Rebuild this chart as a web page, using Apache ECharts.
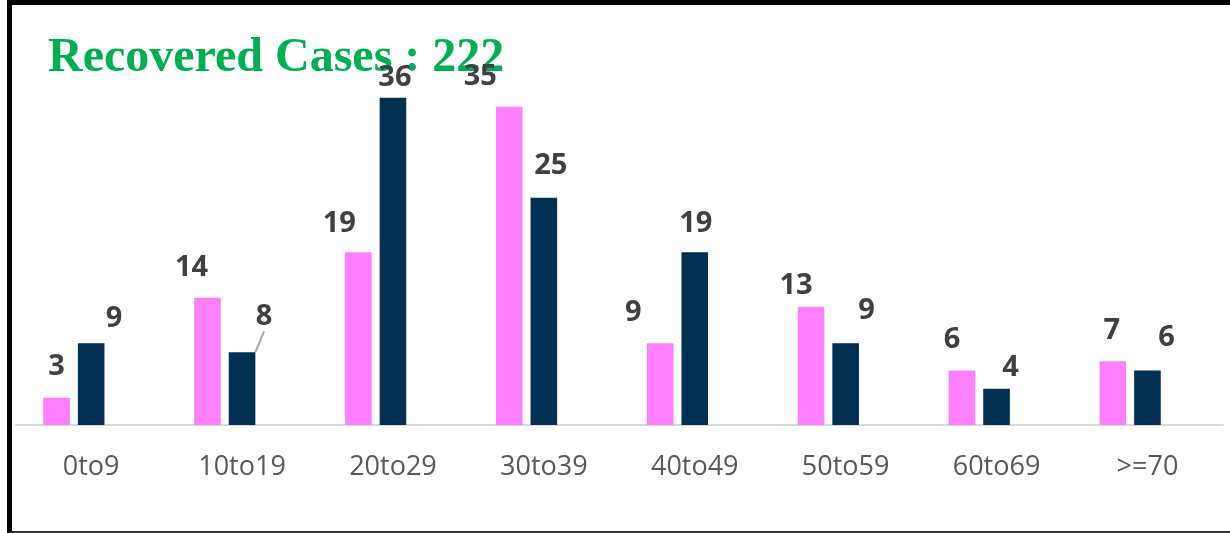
<!DOCTYPE html>
<html>
<head>
<meta charset="utf-8">
<script src="https://cdn.jsdelivr.net/npm/echarts@6/dist/echarts.min.js"></script>
<style>
  html, body { margin: 0; padding: 0; background: #ffffff; }
  #chart { position: absolute; left: 0; top: 0; width: 1230px; height: 533px; }
  #frame { position: absolute; left: 7px; top: 0; width: 1223px; height: 533px; box-sizing: border-box;
           border-top: 5px solid #000; border-left: 5px solid #000; border-bottom: 2px solid #333;
           pointer-events: none; }
</style>
</head>
<body>
<div id="chart"></div>
<div id="frame"></div>
<script>
// ---- data ----
const titleText = 'Recovered Cases : 222';
const categories = ['0to9', '10to19', '20to29', '30to39', '40to49', '50to59', '60to69', '>=70'];
const seriesA = [3, 14, 19, 35, 9, 13, 6, 7];   // pink
const seriesB = [9, 8, 36, 25, 19, 9, 4, 6];    // navy
const seriesC = [null, null, null, null, null, null, null, null]; // hidden third series (reserves slot)

// ---- label placement (styling, separate from data) ----
const labelShiftA = [[0, 0], [-16, 0], [-19, 2], [-29, 0], [-27, 0], [-15, 9], [-10, 0], [-1, 0]];
const labelShiftB = [[23, 6], [22, -5], [2, 10], [7, -2], [1, 2], [21, -2], [14, 10], [19, -2]];
const leaderLineB = [false, true, false, false, false, false, false, false];

const chart = echarts.init(document.getElementById('chart'), null, { renderer: 'canvas' });

const labelStyle = {
  show: true,
  position: 'top',
  distance: 16,
  color: '#404040',
  fontFamily: '"Open Sans", sans-serif',
  fontWeight: 'bold',
  fontSize: 29,
  lineHeight: 29
};

function buildItems(values, lines) {
  return values.map((v, i) => {
    const item = { value: v };
    if (lines && lines[i]) {
      item.labelLine = { show: true, lineStyle: { color: '#A6A6A6', width: 2 } };
    }
    return item;
  });
}

const option = {
  backgroundColor: '#ffffff',
  animation: false,
  title: {
    text: titleText,
    left: 43,
    top: 30,
    z: 1,
    textStyle: {
      color: '#00B050',
      fontFamily: '"Liberation Serif", "Times New Roman", serif',
      fontWeight: 'bold',
      fontSize: 48
    }
  },
  grid: { left: 15.7, right: 7.1, top: 61.4, bottom: 108, containLabel: false },
  xAxis: {
    type: 'category',
    data: categories,
    axisLine: { show: true, lineStyle: { color: '#D9D9D9', width: 2 } },
    axisTick: { show: false },
    axisLabel: {
      color: '#595959',
      fontFamily: '"Open Sans", sans-serif',
      fontSize: 27,
      margin: 29,
      interval: 0
    },
    splitLine: { show: false }
  },
  yAxis: {
    type: 'value',
    min: 0,
    max: 40,
    interval: 10,
    show: false,
    splitLine: { show: false }
  },
  series: [
    {
      name: 'A',
      type: 'bar',
      data: buildItems(seriesA),
      barWidth: 26.6,
      barGap: '30%',
      itemStyle: { color: '#FF80FF' },
      label: labelStyle,
      labelLayout: function (p) { const s = labelShiftA[p.dataIndex]; return { dx: s[0], dy: s[1] }; },
      labelLine: { show: false }
    },
    {
      name: 'B',
      type: 'bar',
      data: buildItems(seriesB, leaderLineB),
      barWidth: 26.6,
      barGap: '30%',
      itemStyle: { color: '#003153' },
      label: labelStyle,
      labelLayout: function (p) { const s = labelShiftB[p.dataIndex]; return { dx: s[0], dy: s[1] }; },
      labelLine: { show: false }
    },
    {
      name: 'C',
      type: 'bar',
      data: seriesC,
      barWidth: 26.6,
      barGap: '30%',
      itemStyle: { color: 'transparent' },
      label: { show: false }
    }
  ]
};

chart.setOption(option);
</script>
</body>
</html>
